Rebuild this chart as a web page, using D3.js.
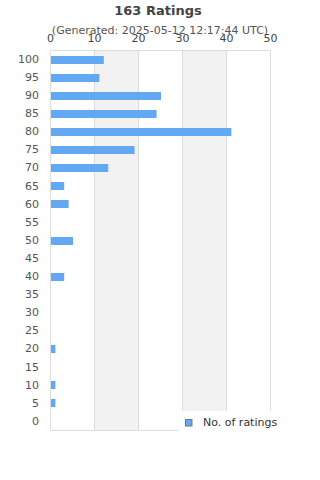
<!DOCTYPE html>
<html><head><meta charset="utf-8">
<script src="https://cdn.jsdelivr.net/npm/d3@7"></script>
<style>body{margin:0;background:#fff}svg{display:block;font-family:"DejaVu Sans",sans-serif}</style>
</head><body><svg id="c" width="320" height="480"></svg>
<script>
const categories = ["100","95","90","85","80","75","70","65","60","55","50","45","40","35","30","25","20","15","10","5","0"];
const values = [12,11,25,24,41,19,13,3,4,0,5,0,3,0,0,0,1,0,1,1,0];
const xTicks = [0,10,20,30,40,50];
const title = "163 Ratings";
const subtitle = "(Generated: 2025-05-12 12:17:44 UTC)";
const seriesName = "No. of ratings";

const svg = d3.select("#c");
const m = {l:50.5, r:270.5, t:50.5, b:430.5};
const x = d3.scaleLinear().domain([0,50]).range([m.l,m.r]);
const y = d3.scaleBand().domain(categories).range([m.t,m.b]).paddingInner(0.56).paddingOuter(0.28);
const yb = d3.scaleBand().domain(categories).range([m.t,m.b]);

// alternating bands
for (let i=0;i<xTicks.length-1;i++){
  if (i%2===1) svg.append("rect").attr("x",x(xTicks[i])).attr("y",m.t).attr("width",x(xTicks[i+1])-x(xTicks[i])).attr("height",m.b-m.t).attr("fill","#f2f2f2");
}
// grid
svg.append("g").selectAll("line").data(xTicks).join("line")
  .attr("x1",d=>x(d)).attr("x2",d=>x(d)).attr("y1",m.t).attr("y2",m.b)
  .attr("stroke","#dcdcdc").attr("stroke-width",1);
svg.append("line").attr("x1",m.l).attr("x2",m.r).attr("y1",m.t).attr("y2",m.t).attr("stroke","#dcdcdc");
svg.append("line").attr("x1",m.l).attr("x2",m.r).attr("y1",m.b).attr("y2",m.b).attr("stroke","#dcdcdc");

// bars
svg.append("g").selectAll("rect").data(values).join("rect")
  .attr("x",x(0)+0.5).attr("y",(d,i)=>Math.round(y(categories[i])))
  .attr("width",d=>Math.max(0,x(d)-x(0))).attr("height",8)
  .attr("fill","#62a8f2");

// top axis labels
svg.append("g").selectAll("text").data(xTicks).join("text")
  .attr("x",d=>x(d)).attr("y",42).attr("text-anchor","middle")
  .attr("font-size",11).attr("fill","#444").text(d=>d);

// y labels
svg.append("g").selectAll("text").data(categories).join("text")
  .attr("x",39).attr("y",d=>yb(d)+yb.bandwidth()/2-0.5).attr("dy","0.35em").attr("text-anchor","end")
  .attr("font-size",11).attr("fill","#555").text(d=>d);

// titles
svg.append("text").attr("x",158).attr("y",15).attr("text-anchor","middle").attr("font-size",13).attr("font-weight","bold").attr("fill","#444").text(title);
svg.append("text").attr("x",160).attr("y",34).attr("text-anchor","middle").attr("font-size",11).attr("fill","#555").text(subtitle);

// legend
const lg = svg.append("g");
lg.append("rect").attr("x",178).attr("y",411).attr("width",142).attr("height",30).attr("fill","#fff");
lg.append("rect").attr("x",185.5).attr("y",419.5).attr("width",6.5).attr("height",6.5).attr("fill","#62a8f2").attr("stroke","#777").attr("stroke-width",1);
lg.append("text").attr("x",203).attr("y",426).attr("font-size",11).attr("fill","#333").text(seriesName);
</script></body></html>
